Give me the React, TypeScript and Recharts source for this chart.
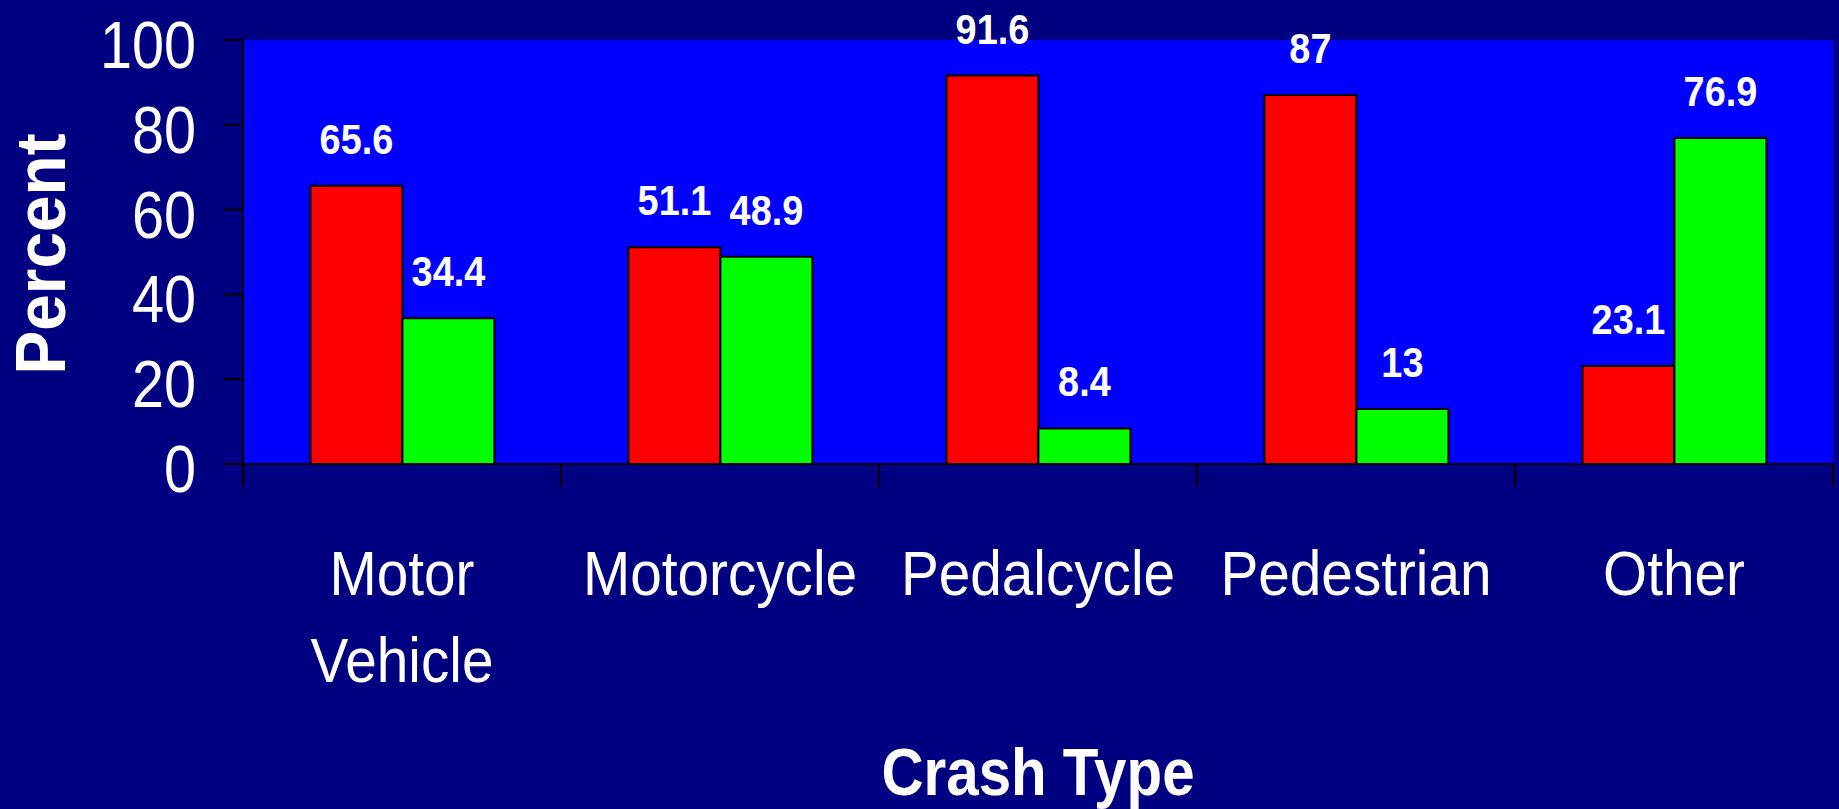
import { BarChart, Bar, XAxis, YAxis, CartesianGrid } from "recharts";

const categories = ["Motor\nVehicle", "Motorcycle", "Pedalcycle", "Pedestrian", "Other"];
const seriesA = [65.6, 51.1, 91.6, 87, 23.1];
const seriesB = [34.4, 48.9, 8.4, 13, 76.9];
const yTicks = [0, 20, 40, 60, 80, 100];
const boundaryTicks = [0, 1, 2, 3, 4, 5];

const data = categories.map((name, i) => ({ name, a: seriesA[i], b: seriesB[i], pos: i + 0.5 }));

const FONT = '"Liberation Sans", Arial, Helvetica, sans-serif';
const NAVY = "#000080";

function YTick({ x, y, payload }: any) {
  return (
    <text
      transform={`translate(${x},${y + 28}) scale(0.86,1)`}
      textAnchor="end"
      fill="#fff"
      fontSize={67}
      fontFamily={FONT}
    >
      {payload.value}
    </text>
  );
}

function CategoryTick({ x, y, payload }: any) {
  const lines = String(payload.value).split("\n");
  return (
    <g transform={`translate(${x},${y})`}>
      {lines.map((line, i) => (
        <text
          key={i}
          transform={`translate(0,${130 + i * 87}) scale(0.9,1)`}
          textAnchor="middle"
          fill="#fff"
          fontSize={63}
          fontFamily={FONT}
        >
          {line}
        </text>
      ))}
    </g>
  );
}

// tick mark hanging below the axis at each category boundary
function BoundaryTick({ x, y }: any) {
  return <line x1={x} x2={x} y1={y - 23} y2={y} stroke="#000" strokeWidth={2} />;
}

function valueLabel({ x, y, width, value }: any) {
  return (
    <text
      transform={`translate(${Number(x) + Number(width) / 2},${Number(y) - 32}) scale(0.88,1)`}
      textAnchor="middle"
      fill="#fff"
      fontSize={43}
      fontWeight="bold"
      fontFamily={FONT}
    >
      {value}
    </text>
  );
}

function yTitle({ viewBox }: any) {
  const { x, y, height } = viewBox;
  return (
    <text
      transform={`translate(${x + 65},${y + height / 2 + 2}) rotate(-90) scale(0.94,1)`}
      textAnchor="middle"
      fill="#fff"
      fontSize={70}
      fontWeight="bold"
      fontFamily={FONT}
    >
      Percent
    </text>
  );
}

function xTitle({ viewBox }: any) {
  const { x, y, width } = viewBox;
  return (
    <text
      transform={`translate(${x + width / 2},${y + 330}) scale(0.87,1)`}
      textAnchor="middle"
      fill="#fff"
      fontSize={67}
      fontWeight="bold"
      fontFamily={FONT}
    >
      Crash Type
    </text>
  );
}

export default function App() {
  return (
    <div style={{ width: 1839, height: 809, background: NAVY }}>
      <style>{"body{margin:0;background:#000080}"}</style>
      <BarChart
        width={1839}
        height={809}
        data={data}
        margin={{ top: 40, right: 6, left: 0, bottom: 0 }}
        barCategoryGap="21.2%"
        barGap={0}
      >
        <CartesianGrid horizontal={false} vertical={false} fill="#0000FF" stroke="none" />
        <XAxis
          xAxisId="bounds"
          type="number"
          dataKey="pos"
          domain={[0, 5]}
          ticks={boundaryTicks}
          allowDataOverflow
          height={1}
          tick={<BoundaryTick />}
          tickLine={false}
          tickSize={0}
          tickMargin={23}
          stroke="#000"
          strokeWidth={2}
        />
        <XAxis
          xAxisId="cat"
          dataKey="name"
          height={344}
          axisLine={false}
          tickLine={false}
          tickSize={0}
          tickMargin={0}
          interval={0}
          tick={<CategoryTick />}
          label={{ content: xTitle }}
        />
        <YAxis
          width={243}
          domain={[0, 100]}
          ticks={yTicks}
          tickSize={19}
          tickMargin={28}
          stroke="#000"
          strokeWidth={2}
          tick={<YTick />}
          label={{ content: yTitle }}
        />
        <Bar
          xAxisId="cat"
          dataKey="a"
          fill="#FF0000"
          stroke="#000"
          strokeWidth={2}
          isAnimationActive={false}
          label={valueLabel}
        />
        <Bar
          xAxisId="cat"
          dataKey="b"
          fill="#00FF00"
          stroke="#000"
          strokeWidth={2}
          isAnimationActive={false}
          label={valueLabel}
        />
      </BarChart>
    </div>
  );
}
